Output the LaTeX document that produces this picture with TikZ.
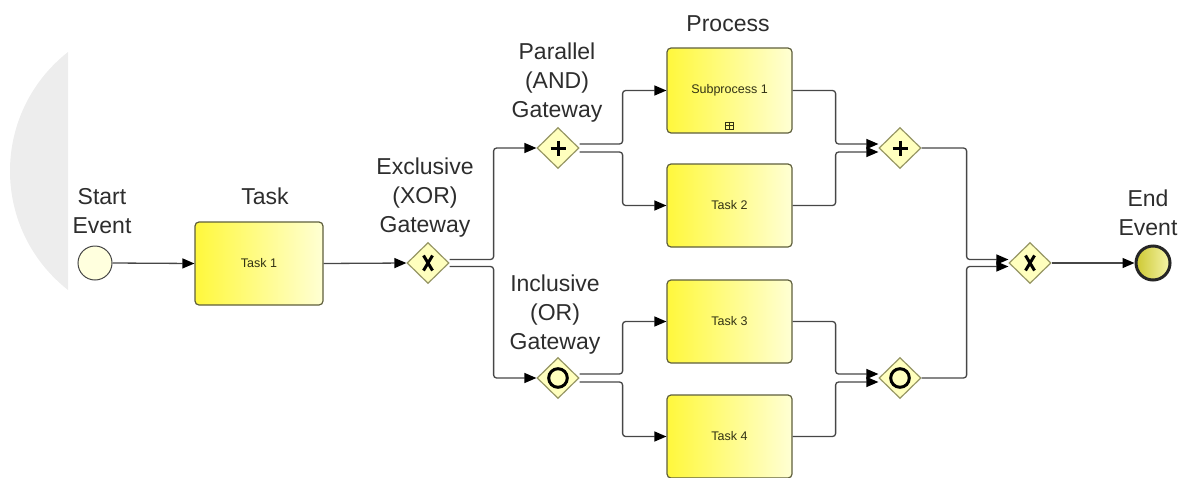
\documentclass[tikz,border=0pt]{standalone}
\usepackage{fontspec}
\setmainfont{Liberation Sans}
\usetikzlibrary{shapes.geometric,arrows.meta,calc}
\definecolor{bgc}{RGB}{237,237,237}
\definecolor{linec}{RGB}{70,70,70}
\definecolor{boxl}{RGB}{255,248,60}
\definecolor{boxr}{RGB}{255,255,212}
\definecolor{boxd}{RGB}{95,95,60}
\definecolor{gwfill}{RGB}{255,255,190}
\definecolor{gwdraw}{RGB}{150,150,100}
\definecolor{lblc}{RGB}{45,45,45}
\definecolor{txtc}{RGB}{50,50,20}
\definecolor{startf}{RGB}{255,255,222}
\definecolor{endl}{RGB}{205,200,50}
\definecolor{endr}{RGB}{245,245,170}
\tikzset{
  taskbox/.style={draw=boxd, line width=1.2pt, rounded corners=4pt,
    left color=boxl, right color=boxr, minimum width=128pt, minimum height=83pt,
    inner sep=0pt, font=\fontsize{12.5}{14}\selectfont, text=txtc},
  gw/.style={shape=diamond, draw=gwdraw, line width=1.2pt, fill=gwfill,
    minimum width=42pt, minimum height=41pt, inner sep=0pt},
  mk/.style={line width=3pt, black},
  flow/.style={draw=linec, line width=1.3pt, rounded corners=3pt,
    -{Triangle[length=12pt,width=10pt,color=black,fill=black]}},
  lbl/.style={align=center, anchor=north, inner sep=0pt,
    font=\fontsize{23}{29}\selectfont, text=lblc},
}
\begin{document}
\begin{tikzpicture}[x=1pt,y=-1pt]
\useasboundingbox (0,0) rectangle (1190,477);
\clip (0,0) rectangle (1190,477);
\begin{scope}
  \clip (0,0) rectangle (68,477);
  \fill[bgc] (161,171) circle (151pt);
\end{scope}

% events
\node[circle, draw=linec, line width=1pt, fill=startf, minimum size=34pt, inner sep=0pt] (start) at (95,263) {};
\node[circle, draw=black!85, line width=3pt, left color=endl, right color=endr, minimum size=34pt, inner sep=0pt] (end) at (1153,263) {};

% tasks
\node[taskbox] (task1) at (259,263.5) {Task 1};
\node[taskbox, minimum width=125pt, minimum height=85pt] (sub1) at (729.5,90.5) {Subprocess 1};
\node[taskbox, minimum width=125pt] (task2) at (729.5,205.5) {Task 2};
\node[taskbox, minimum width=125pt] (task3) at (729.5,321.5) {Task 3};
\node[taskbox, minimum width=125pt] (task4) at (729.5,436.5) {Task 4};

% subprocess marker
\node[draw=txtc, line width=0.6pt, minimum width=8pt, minimum height=7pt, inner sep=0pt] (subm) at ([yshift=8pt]sub1.south) {};
\draw[txtc, line width=0.6pt] (subm.north) -- (subm.south) (subm.west) -- (subm.east);

% gateways
\node[gw] (xor) at (428,263) {};
\node[gw] (and) at (558,148) {};
\node[gw] (or) at (558,378) {};
\node[gw] (andj) at (900,148) {};
\node[gw] (orj) at (900,378) {};
\node[gw] (xorj) at (1030,263) {};

% markers
\foreach \g in {xor,xorj}{
  \draw[mk] ([shift={(-4.5,-7.5)}]\g.center) -- ([shift={(4.5,7.5)}]\g.center);
  \draw[mk] ([shift={(4.5,-7.5)}]\g.center) -- ([shift={(-4.5,7.5)}]\g.center);
}
\foreach \g in {and,andj}{
  \draw[mk] ([shift={(-7.5,0)}]\g.center) -- ([shift={(7.5,0)}]\g.center);
  \draw[mk] ([shift={(0,-7.5)}]\g.center) -- ([shift={(0,7.5)}]\g.center);
}
\foreach \g in {or,orj}{
  \draw[mk] (\g.center) circle (9.3pt);
}

% labels
\node[lbl] (lstart) at (102,188) {Start\\Event};
\node[lbl] (ltask) at (265,188) {Task};
\node[lbl] (lxor) at (425,158) {Exclusive\\(XOR)\\Gateway};
\node[lbl] (land) at (557,43) {Parallel\\(AND)\\Gateway};
\node[lbl] (lproc) at (728,15) {Process};
\node[lbl] (lor) at (555,275) {Inclusive\\(OR)\\Gateway};
\node[lbl] (lend) at (1148,190) {End\\Event};

% connectors
\draw[flow] (start.east) -- (task1.west);
\draw[flow] (task1.east) -- (xor.west);
\draw[flow] ([yshift=3.5pt]xor.east) -- ++(44,0) |- (and.west);
\draw[flow] ([yshift=-3.5pt]xor.east) -- ++(44,0) |- (or.west);
\draw[flow] ([yshift=4pt]and.east) -- ++(43,0) |- (sub1.west);
\draw[flow] ([yshift=-4pt]and.east) -- ++(43,0) |- (task2.west);
\draw[flow] ([yshift=4pt]or.east) -- ++(43,0) |- (task3.west);
\draw[flow] ([yshift=-4pt]or.east) -- ++(43,0) |- (task4.west);
\draw[flow] (sub1.east) -- ++(43,0) |- ([yshift=4pt]andj.west);
\draw[flow] (task2.east) -- ++(43,0) |- ([yshift=-4pt]andj.west);
\draw[flow] (task3.east) -- ++(43,0) |- ([yshift=4pt]orj.west);
\draw[flow] (task4.east) -- ++(43,0) |- ([yshift=-4pt]orj.west);
\draw[flow] (andj.east) -- ++(45,0) |- ([yshift=3.5pt]xorj.west);
\draw[flow] (orj.east) -- ++(45,0) |- ([yshift=-3.5pt]xorj.west);
\draw[flow] (xorj.east) -- (end.west);
\end{tikzpicture}
\end{document}
